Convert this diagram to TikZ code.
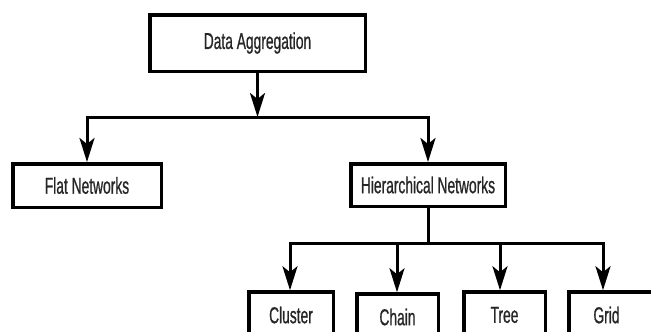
\documentclass[tikz,border=0pt]{standalone}
\usepackage{fontspec}
\setmainfont{Liberation Sans}[FakeStretch=0.6,FakeBold=0.7]
\usetikzlibrary{arrows.meta}
\begin{document}
\begin{tikzpicture}[x=1pt,y=-1pt,
  box/.style={draw=black,line width=3.5pt,fill=white,inner sep=0pt,
    font=\fontsize{23}{27}\selectfont,text=black!85},
  conn/.style={draw=black,line width=3pt},
  arr/.style={conn,-{Stealth[length=24pt,width=15pt,inset=6pt]}}]
\useasboundingbox (0,0) rectangle (651,332);
\clip (0,0) rectangle (651,332);
\node[box,minimum width=215.5pt,minimum height=56.5pt] (da) at (257.5,43) {Data Aggregation};
\node[box,minimum width=148.5pt,minimum height=43.5pt] (flat) at (87,185.5) {Flat Networks};
\node[box,minimum width=154.5pt,minimum height=42.5pt] (hier) at (428,185) {Hierarchical Networks};
\node[box,minimum width=84.5pt,minimum height=46pt] (cluster) at (291,315) {Cluster};
\node[box,minimum width=81.5pt,minimum height=46pt] (chain) at (397.5,317) {Chain};
\node[box,minimum width=81.5pt,minimum height=46pt] (tree) at (504.5,315) {Tree};
\node[box,minimum width=89.5pt,minimum height=46pt] (grid) at (613.5,315) {Grid\hspace*{14pt}};
\coordinate (j1) at (257.5,117);
\coordinate (j2) at (428,243);
\draw[arr] (da.south) -- (j1);
\draw[arr] (j1) -| (flat.north);
\draw[arr] (j1) -| (hier.north);
\draw[conn] (hier.south) -- (j2);
\draw[arr] (j2) -| (cluster.north -| 290,0);
\draw[arr] (j2) -| (chain.north -| 397,0);
\draw[arr] (j2) -| (tree.north -| 500,0);
\draw[arr] (j2) -| (grid.north -| 603,0);
\end{tikzpicture}
\end{document}
